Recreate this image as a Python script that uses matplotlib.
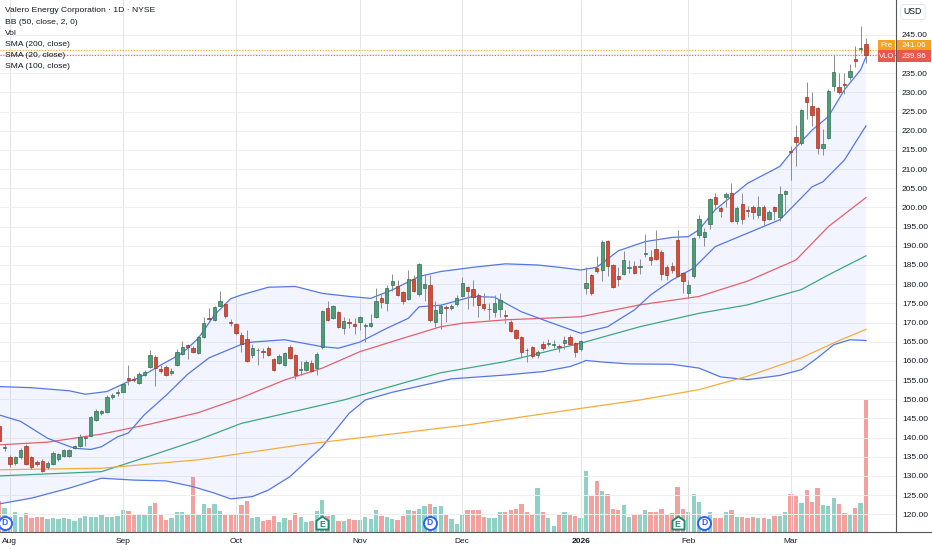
import numpy as np
import matplotlib.pyplot as plt
from matplotlib.path import Path
from matplotlib.patches import Rectangle
from matplotlib.transforms import blended_transform_factory

plt.rcParams['font.family'] = ['Liberation Sans', 'DejaVu Sans']

# daily bars, index 0 = 1 Aug 2025 (two July bars on the left edge)
bar_idx = list(range(-2, 160))
opens = [143.0, 137.3, 135.0, 133.45, 134.8, 137.9, 134.8, 133.5, 134.0, 132.2,
         133.1, 134.4, 135.3, 135.3, 137.2, 137.9, 139.8, 140.5, 144.6, 146.3,
         146.6, 150.5, 151.5, 152.0, 155.45, 155.2, 154.1, 156.3, 158.4, 161.0,
         158.0, 158.4, 156.8, 158.9, 161.7, 164.1, 163.3, 162.1, 166.3, 171.3,
         170.7, 174.4, 174.8, 170.1, 169.6, 166.8, 165.6, 161.4, 162.7, 162.4,
         163.3, 160.5, 159.5, 158.9, 163.5, 161.5, 157.7, 157.7, 159.4, 158.2,
         163.5, 173.9, 171.1, 172.7, 168.5, 170.1, 169.6, 170.2, 169.2, 169.2,
         171.5, 176.5, 175.2, 179.8, 179.6, 177.9, 176.2, 181.4, 177.4, 178.9,
         179.8, 170.2, 172.4, 174.0, 173.7, 174.8, 176.9, 179.2, 178.7, 177.1,
         174.8, 173.4, 172.7, 173.5, 172.0, 170.2, 168.1, 166.1, 162.9, 163.5,
         161.4, 164.4, 164.3, 164.1, 163.8, 164.6, 166.3, 164.6, 163.0, 179.1,
         182.4, 184.2, 183.7, 191.3, 185.0, 182.2, 182.7, 184.3, 184.8, 184.4,
         187.8, 187.2, 189.1, 188.5, 184.4, 184.8, 191.5, 182.9, 177.6, 182.0,
         192.8, 192.2, 195.7, 202.6, 199.8, 202.6, 203.7, 196.5, 200.9, 199.2,
         200.0, 198.1, 200.2, 197.0, 200.0, 197.4, 203.5, 214.8, 218.5, 216.8,
         228.9, 226.5, 225.9, 215.6, 218.1, 231.8, 231.5, 232.1, 234.0, 238.7,
         241.2, 242.7]
highs = [143.5, 138.3, 135.4, 135.2, 137.3, 138.2, 135.2, 134.2, 134.3, 134.0,
         136.5, 136.0, 137.1, 137.0, 138.0, 140.9, 140.6, 145.6, 147.4, 147.2,
         151.0, 151.6, 152.6, 154.3, 159.0, 156.0, 157.2, 157.5, 162.8, 161.4,
         158.9, 158.9, 158.2, 163.0, 165.2, 164.5, 163.8, 166.4, 171.5, 173.7,
         174.4, 178.2, 175.2, 171.0, 170.0, 167.5, 168.1, 164.5, 163.3, 163.3,
         163.8, 160.8, 161.8, 162.4, 164.2, 161.8, 160.0, 160.3, 160.2, 162.2,
         173.2, 175.5, 174.6, 173.0, 171.5, 171.3, 171.1, 171.7, 169.8, 172.2,
         178.9, 177.4, 179.8, 182.7, 181.1, 178.2, 183.7, 182.3, 185.4, 182.6,
         182.4, 175.5, 174.8, 174.6, 174.9, 177.3, 181.8, 179.4, 181.1, 177.6,
         177.6, 175.1, 177.2, 177.6, 173.3, 170.6, 168.3, 166.4, 163.3, 163.8,
         162.8, 165.3, 165.6, 165.5, 164.5, 166.5, 166.8, 165.0, 165.5, 184.6,
         182.6, 187.4, 191.5, 191.5, 185.3, 184.6, 188.7, 186.2, 186.0, 186.6,
         193.0, 188.8, 194.0, 188.8, 185.0, 185.9, 194.2, 183.2, 181.0, 192.4,
         198.0, 194.6, 202.5, 203.8, 200.4, 204.1, 206.3, 200.4, 203.7, 200.3,
         200.7, 203.1, 200.6, 199.3, 200.4, 205.5, 204.6, 215.9, 221.5, 225.6,
         232.6, 230.0, 226.2, 220.4, 230.8, 239.8, 235.0, 235.0, 237.4, 242.0,
         247.2, 244.1]
lows = [138.5, 136.4, 132.4, 132.8, 134.5, 132.8, 131.8, 132.6, 130.9, 131.8,
        132.8, 134.0, 135.0, 135.0, 137.0, 137.6, 137.9, 140.3, 144.3, 145.8,
        146.4, 150.0, 150.9, 151.8, 153.7, 154.6, 153.9, 156.0, 158.2, 153.4,
        156.9, 156.1, 156.2, 158.7, 161.4, 160.6, 162.1, 161.8, 166.0, 170.6,
        170.5, 174.2, 171.3, 169.2, 166.7, 162.2, 159.8, 160.8, 158.8, 160.7,
        161.2, 157.3, 159.2, 158.6, 160.4, 155.3, 156.3, 157.3, 157.1, 156.3,
        163.2, 170.4, 170.8, 168.6, 167.0, 168.5, 167.0, 168.1, 164.9, 168.9,
        171.2, 173.7, 172.9, 178.2, 177.0, 174.9, 175.9, 177.9, 177.0, 175.5,
        170.2, 168.7, 168.3, 170.2, 173.2, 174.3, 176.6, 173.5, 174.2, 171.5,
        173.3, 170.7, 171.5, 171.5, 169.8, 167.6, 165.6, 161.1, 159.8, 160.7,
        160.8, 162.8, 163.9, 163.3, 162.3, 163.0, 164.1, 160.9, 162.6, 177.4,
        177.2, 182.8, 180.7, 182.0, 178.9, 179.5, 182.3, 182.8, 182.7, 182.7,
        187.2, 185.0, 186.3, 181.1, 181.1, 183.0, 181.8, 177.8, 176.3, 181.6,
        192.0, 189.9, 194.4, 199.7, 197.4, 200.2, 196.2, 195.6, 195.6, 197.5,
        197.0, 197.3, 195.4, 196.6, 196.8, 196.5, 198.9, 207.2, 210.7, 216.4,
        223.0, 221.3, 213.9, 213.7, 217.8, 230.5, 229.6, 229.6, 233.3, 236.6,
        240.2, 237.6]
closes = [139.1, 137.5, 133.0, 134.85, 136.8, 133.1, 132.2, 133.1, 131.4, 133.3,
          135.9, 135.6, 136.8, 136.7, 137.7, 140.2, 140.2, 145.3, 146.9, 146.9,
          150.7, 151.1, 152.0, 154.0, 155.1, 155.1, 156.5, 157.1, 161.5, 158.2,
          157.3, 156.4, 157.4, 162.4, 163.5, 163.5, 162.4, 166.1, 170.0, 171.0,
          174.1, 175.5, 171.7, 169.9, 167.2, 164.3, 160.0, 163.3, 162.8, 162.2,
          161.6, 157.6, 161.3, 162.0, 160.7, 156.2, 157.8, 159.8, 157.4, 161.7,
          172.9, 170.7, 174.2, 168.9, 170.4, 170.0, 169.1, 171.4, 169.3, 169.8,
          175.7, 175.3, 178.9, 180.7, 177.2, 175.5, 181.4, 178.2, 185.2, 180.0,
          170.6, 173.3, 174.2, 173.9, 174.3, 176.5, 180.2, 178.2, 176.6, 174.6,
          173.7, 173.6, 175.0, 175.9, 171.6, 167.9, 165.9, 162.4, 162.7, 161.3,
          162.4, 163.3, 164.6, 164.5, 163.6, 165.4, 164.4, 162.4, 165.2, 180.2,
          177.8, 183.5, 191.1, 184.8, 179.2, 181.3, 186.3, 184.4, 183.0, 184.5,
          187.9, 186.3, 186.5, 182.7, 182.4, 183.7, 182.0, 180.9, 179.8, 192.0,
          197.0, 193.7, 202.2, 200.9, 199.1, 203.5, 196.5, 199.8, 196.9, 199.1,
          198.8, 200.2, 196.8, 198.9, 199.1, 203.5, 204.3, 214.5, 217.2, 225.3,
          227.6, 224.2, 215.5, 216.6, 230.5, 235.3, 230.2, 232.0, 235.5, 238.1,
          241.5, 239.86]
# volume, millions of shares
volume = [6.2, 4.8, 3.0, 4.0, 2.9, 3.7, 2.8, 2.9, 2.9, 2.5,
          2.8, 2.6, 2.8, 2.5, 2.2, 2.8, 3.2, 2.9, 2.9, 3.4,
          3.0, 2.9, 3.1, 4.4, 4.1, 3.6, 3.5, 3.3, 5.2, 5.7,
          3.6, 2.3, 2.8, 4.0, 3.9, 3.3, 11.0, 3.6, 5.5, 4.8,
          5.6, 4.1, 3.6, 3.3, 3.3, 5.3, 6.1, 2.8, 2.9, 2.2,
          2.3, 3.2, 1.9, 2.7, 2.4, 3.7, 2.9, 1.9, 2.2, 4.2,
          6.3, 3.2, 3.6, 2.2, 2.1, 2.6, 2.3, 2.3, 2.9, 2.5,
          4.3, 3.2, 2.9, 2.6, 2.4, 3.1, 4.4, 4.1, 4.5, 5.1,
          5.5, 5.0, 5.2, 3.6, 2.5, 1.5, 3.5, 4.4, 4.3, 4.4,
          2.9, 2.8, 2.8, 3.9, 4.0, 4.4, 4.5, 5.5, 4.0, 3.5,
          8.7, 3.9, 2.7, 1.2, 3.5, 3.9, 3.5, 3.2, 2.7, 12.1,
          7.2, 10.2, 8.1, 7.5, 4.5, 4.3, 5.3, 2.9, 3.3, 3.6,
          4.3, 4.0, 3.9, 4.5, 3.3, 3.7, 8.9, 4.5, 3.9, 7.5,
          6.0, 2.9, 3.9, 2.7, 2.8, 4.0, 4.3, 2.9, 2.9, 2.8,
          2.9, 2.7, 2.8, 2.5, 3.1, 3.2, 4.0, 7.5, 7.3, 5.7,
          8.3, 5.9, 8.7, 5.3, 5.1, 6.8, 5.6, 3.7, 3.3, 4.8,
          5.7, 26.3]

month_idx = [0, 21, 42, 65, 84, 106, 126, 145]
month_lbl = ['Aug', 'Sep', 'Oct', 'Nov', 'Dec', '2026', 'Feb', 'Mar']
price_ticks = list(range(120, 250, 5))

# indicator lines: (bar index, price)
bb_up_x = [-2, 4, 11, 14, 18, 22, 24, 28, 32, 35, 38, 41, 43, 48, 53, 58, 63, 67, 71, 76,
           80, 86, 92, 98, 102, 106, 109, 113, 118, 123, 126, 128, 131, 137, 143, 145, 149,
           152, 155, 158, 159]
bb_up_y = [153.3, 153.0, 152.2, 151.3, 152.0, 154.6, 155.6, 158.9, 162.0, 165.9, 172.0,
           176.2, 177.2, 179.2, 179.4, 177.6, 176.8, 176.3, 178.5, 182.0, 183.3, 184.4,
           185.3, 185.0, 184.4, 183.7, 184.4, 188.7, 191.1, 192.2, 192.4, 194.2, 199.4,
           206.3, 210.7, 214.2, 220.2, 223.7, 230.7, 235.9, 239.3]
bb_lo_x = [-2, 4, 11, 17, 23, 29, 34, 38, 41, 45, 48, 52, 58, 63, 66, 71, 77, 82, 92, 99,
           104, 106, 107, 110, 115, 123, 128, 132, 137, 143, 147, 150, 153, 156, 159]
bb_lo_y = [122.7, 124.2, 126.8, 129.4, 128.9, 128.7, 127.2, 125.5, 124.0, 124.6, 126.3,
           129.8, 137.6, 146.3, 149.8, 151.8, 153.7, 155.3, 156.3, 157.2, 158.5, 159.5,
           160.1, 159.7, 159.2, 159.1, 158.1, 155.8, 155.1, 156.2, 157.7, 160.8, 164.2,
           165.5, 165.3]
sma20_x = [-2, 2, 7, 12, 15, 17, 20, 22, 25, 29, 33, 37, 43, 45, 51, 58, 61, 65, 70, 74,
           76, 80, 86, 90, 95, 100, 106, 111, 116, 119, 123, 127, 131, 137, 143, 149, 151,
           155, 159]
sma20_y = [145.9, 144.2, 139.8, 137.2, 136.9, 137.6, 140.2, 141.2, 146.0, 151.0, 156.5,
           160.8, 164.3, 164.9, 165.5, 163.7, 163.3, 164.9, 168.5, 171.1, 174.1, 174.5,
           176.8, 176.6, 172.8, 170.2, 167.2, 168.9, 173.3, 177.2, 181.1, 184.2, 189.8,
           193.3, 196.8, 205.4, 206.7, 212.4, 221.3]
bb_mid_x = [-2, 7, 17, 26, 35, 43, 51, 58, 65, 73, 80, 84, 92, 106, 117, 128, 137, 146,
            152, 159]
bb_mid_y = [138.1, 138.8, 140.9, 143.5, 146.5, 150.4, 155.0, 158.1, 162.4, 165.9, 168.9,
            169.8, 170.7, 171.5, 174.6, 176.8, 180.8, 186.3, 195.0, 202.6]
sma100_x = [-2, 17, 26, 35, 43, 54, 62, 74, 80, 92, 106, 117, 128, 137, 147, 152, 159]
sma100_y = [130.0, 131.1, 135.2, 139.4, 143.7, 147.2, 149.8, 154.6, 156.9, 159.8, 164.6,
            168.9, 172.4, 174.6, 178.6, 182.4, 187.4]
sma200_x = [-2, 17, 35, 54, 72, 85, 106, 117, 128, 137, 147, 154, 159]
sma200_y = [131.6, 132.0, 134.2, 138.1, 141.1, 143.3, 147.6, 149.8, 152.5, 156.0, 160.8,
            165.3, 168.2]

div_idx = [-1, 78, 129]
earn_idx = [58, 124]
pre_price = 241.06
last_price = 239.86

x = np.array(bar_idx)
o = np.array(opens)
h = np.array(highs)
l = np.array(lows)
c = np.array(closes)
up = c >= o

W, H = 932, 550
fig = plt.figure(figsize=(W / 100, H / 100), dpi=100, facecolor='white')
rect = [0, 18.5 / H, 896 / W, 531.5 / H]
xlim = (-1.844, 164.57)

# volume underneath
vax = fig.add_axes(rect)
vax.set_xlim(*xlim)
vax.set_ylim(0, 106.3)
vax.axis('off')
vax.bar(x, volume, width=0.8, color=np.where(up, '#8fd1c5', '#f3a19f'), linewidth=0)

ax = fig.add_axes(rect)
ax.set_facecolor('none')
ax.set_xlim(*xlim)
ax.set_ylim(115.5, 254.1)

# bollinger band fill + lines
ax.fill(np.concatenate([bb_up_x, bb_lo_x[::-1]]), np.concatenate([bb_up_y, bb_lo_y[::-1]]),
        color='#2962ff', alpha=0.06, lw=0, zorder=1)
ax.plot(bb_up_x, bb_up_y, color='#5477e6', lw=0.9, zorder=2)
ax.plot(bb_lo_x, bb_lo_y, color='#5477e6', lw=0.9, zorder=2)
ax.plot(bb_mid_x, bb_mid_y, color='#e5606a', lw=0.9, zorder=2)
ax.plot(sma20_x, sma20_y, color='#5477e6', lw=0.9, zorder=2)
ax.plot(sma100_x, sma100_y, color='#3fa77e', lw=0.9, zorder=2)
ax.plot(sma200_x, sma200_y, color='#f4ad3d', lw=0.9, zorder=2)

# candles
ax.vlines(x, l, h, color='#8c8c8c', lw=0.7, zorder=3)
body = np.maximum(np.abs(c - o), 0.25)
ax.bar(x, body, bottom=np.minimum(o, c), width=0.62,
       color=np.where(up, '#4f9c78', '#d44c3c'),
       edgecolor=np.where(up, '#2f6e52', '#a2321f'), linewidth=0.5, zorder=4)

# last / pre-market price lines
ax.axhline(pre_price, color='#f5a21b', lw=0.8, ls=(0, (1, 1.5)), zorder=2)
ax.axhline(last_price, color='#e8584f', lw=0.8, ls=(0, (1, 1.5)), zorder=2)

# grid and axes
ax.set_yticks(price_ticks)
ax.set_yticklabels(['%.2f' % p for p in price_ticks])
ax.yaxis.tick_right()
ax.set_xticks(month_idx)
ax.set_xticklabels(month_lbl)
ax.get_xticklabels()[5].set_fontweight('bold')
ax.tick_params(axis='y', length=0, pad=4.3, labelsize=6, labelcolor='#131722')
ax.tick_params(axis='x', length=0, pad=4.5, labelsize=6, labelcolor='#131722')
ax.grid(axis='y', color='#efefef', lw=0.7, zorder=0)
ax.grid(axis='x', color='#e4e4e4', lw=0.7, zorder=0)
ax.set_axisbelow(True)
for s in ['top', 'left']:
    ax.spines[s].set_visible(False)
for s in ['right', 'bottom']:
    ax.spines[s].set_color('#555555')
    ax.spines[s].set_linewidth(0.8)
fig.add_artist(plt.Line2D([896 / W, 1], [18.5 / H, 18.5 / H], color='#555555', lw=0.8))

# dividend / earnings markers
tr = blended_transform_factory(ax.transData, ax.transAxes)
ax.scatter(div_idx, [0.016] * len(div_idx), s=88, marker='o', facecolor='white',
           edgecolor='#2962ff', lw=1.4, transform=tr, zorder=6, clip_on=False)
for d in div_idx:
    ax.text(d, 0.016, 'D', transform=tr, ha='center', va='center', fontsize=6.2,
            fontweight='bold', color='#2962ff', zorder=7)
house = Path([(-1, -1), (1, -1), (1, 0.45), (0, 1.15), (-1, 0.45), (-1, -1)],
             [Path.MOVETO] + [Path.LINETO] * 4 + [Path.CLOSEPOLY])
ax.scatter(earn_idx, [0.016] * len(earn_idx), s=100, marker=house, facecolor='white',
           edgecolor='#1b8c70', lw=1.4, transform=tr, zorder=6, clip_on=False)
for e in earn_idx:
    ax.text(e, 0.013, 'E', transform=tr, ha='center', va='center', fontsize=6.2,
            fontweight='bold', color='#1b8c70', zorder=7)

# legend block
legend_lines = ['Valero Energy Corporation · 1D · NYSE', 'BB (50, close, 2, 0)', 'Vol',
                'SMA (200, close)', 'SMA (20, close)', 'SMA (100, close)']
for k, t in enumerate(legend_lines):
    fig.text(5 / W, 1 - (11 + 11.1 * k) / H, t, fontsize=6.1, color='#131722',
             va='center', ha='left', fontweight='medium' if k == 0 else 'normal')

# price tags on the right
def tag(y0, y1, color, left, right):
    fig.add_artist(Rectangle((878 / W, 1 - y1 / H), 17 / W, (y1 - y0) / H,
                             transform=fig.transFigure, color=color, lw=0))
    fig.add_artist(Rectangle((897 / W, 1 - y1 / H), 34 / W, (y1 - y0) / H,
                             transform=fig.transFigure, color=color, lw=0))
    ym = 1 - (y0 + y1) / 2 / H
    fig.text(886.5 / W, ym, left, color='white', fontsize=5.6, ha='center', va='center')
    fig.text(914 / W, ym, right, color='white', fontsize=5.8, ha='center', va='center')

tag(40, 50.5, '#f6a21e', 'Pre', '%.2f' % pre_price)
tag(50.5, 61.5, '#e8584f', 'VLO', '%.2f' % last_price)

fig.text(913 / W, 1 - 12 / H, 'USD', fontsize=6.3, color='#131722', ha='center', va='center',
         bbox=dict(boxstyle='round,pad=0.35', fc='white', ec='#e0e3eb', lw=0.6))

fig.savefig('out.png', dpi=100)
